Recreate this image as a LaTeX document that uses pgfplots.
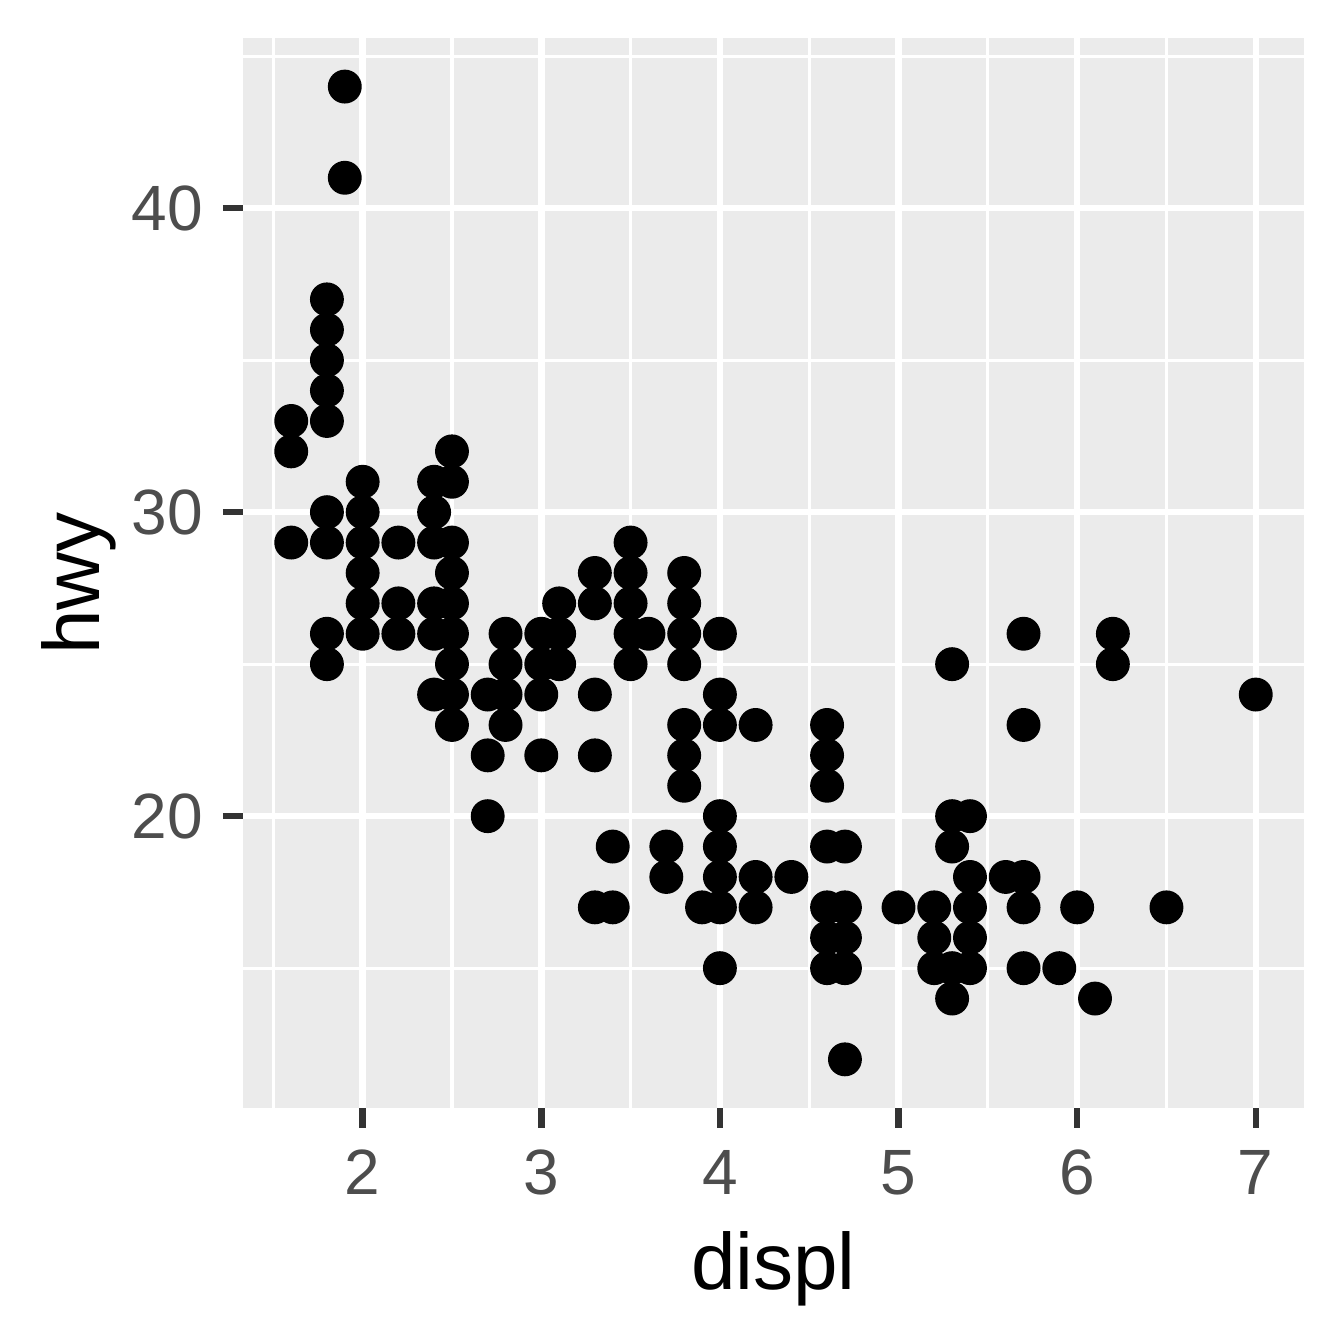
\documentclass[border=0pt]{standalone}
\usepackage{pgfplots}
\pgfplotsset{compat=1.18}
\usepackage{fontspec}
\setmainfont{Liberation Sans}
\definecolor{panelgrey}{HTML}{EBEBEB}
\definecolor{grey20}{HTML}{333333}
\definecolor{grey30}{HTML}{4D4D4D}
\begin{document}
\begin{tikzpicture}
\useasboundingbox (0,0) rectangle (184.8pt,184.8pt);
\begin{axis}[
  at={(33.41pt,32.45pt)}, anchor=south west,
  scale only axis,
  width=145.89pt, height=147.13pt,
  xmin=1.33, xmax=7.27, ymin=10.4, ymax=45.6,
  xtick={2,3,4,5,6,7}, ytick={20,30,40},
  minor xtick={1.5,2.5,3.5,4.5,5.5,6.5},
  minor ytick={15,25,35,45},
  axis background/.style={fill=panelgrey},
  axis line style={draw=none},
  grid=both,
  major grid style={white, line width=0.9pt},
  minor grid style={white, line width=0.45pt},
  tick align=outside,
  xtick pos=bottom, ytick pos=left,
  major tick length=2.75pt, minor tick length=0pt,
  major tick style={grey20, line width=0.9pt},
  /pgf/number format/assume math mode=true,
  tick label style={font=\fontsize{8.8}{10}\selectfont, text=grey30, inner sep=0pt},
  xticklabel style={anchor=north, yshift=-2.85pt},
  yticklabel style={anchor=east, xshift=-2.6pt},
  xlabel={displ}, ylabel={hwy},
  every axis x label/.style={at={(axis description cs:0.5,0)}, anchor=base, yshift=-24.9pt, font=\fontsize{11}{13}\selectfont, inner sep=0pt},
  every axis y label/.style={at={(axis description cs:0,0.49)}, xshift=-19.7pt, rotate=90, anchor=base, font=\fontsize{11}{13}\selectfont, inner sep=0pt},
]
\addplot[only marks, mark=*, mark size=2.13pt, mark options={fill=black, draw=none}] table {
x y
1.6 33
1.6 32
1.6 29
1.8 37
1.8 36
1.8 35
1.8 34
1.8 33
1.8 30
1.8 29
1.8 26
1.8 25
1.9 44
1.9 41
2.0 31
2.0 30
2.0 29
2.0 28
2.0 27
2.0 26
2.2 29
2.2 27
2.2 26
2.4 31
2.4 30
2.4 29
2.4 27
2.4 26
2.4 24
2.5 32
2.5 31
2.5 29
2.5 28
2.5 27
2.5 26
2.5 25
2.5 24
2.5 23
2.7 24
2.7 22
2.7 20
2.8 26
2.8 25
2.8 24
2.8 23
3.0 26
3.0 25
3.0 24
3.0 22
3.1 27
3.1 26
3.1 25
3.3 28
3.3 27
3.3 24
3.3 22
3.3 17
3.4 19
3.4 17
3.5 29
3.5 28
3.5 27
3.5 26
3.5 25
3.6 26
3.7 19
3.7 18
3.8 28
3.8 27
3.8 26
3.8 25
3.8 23
3.8 22
3.8 21
3.9 17
4.0 26
4.0 24
4.0 23
4.0 20
4.0 19
4.0 18
4.0 17
4.0 15
4.2 23
4.2 18
4.2 17
4.4 18
4.6 23
4.6 22
4.6 21
4.6 19
4.6 17
4.6 16
4.6 15
4.7 19
4.7 17
4.7 16
4.7 15
4.7 12
5.0 17
5.2 17
5.2 16
5.2 15
5.3 25
5.3 20
5.3 19
5.3 15
5.3 14
5.4 20
5.4 18
5.4 17
5.4 16
5.4 15
5.6 18
5.7 26
5.7 23
5.7 18
5.7 17
5.7 15
5.9 15
6.0 17
6.1 14
6.2 26
6.2 25
6.5 17
7.0 24
};
\end{axis}
\end{tikzpicture}
\end{document}
